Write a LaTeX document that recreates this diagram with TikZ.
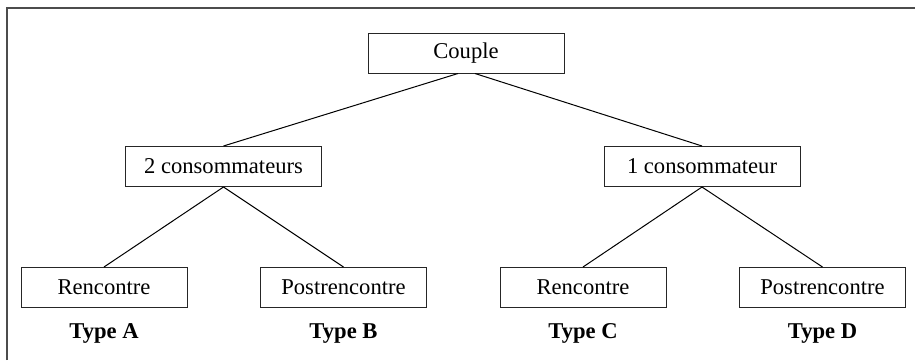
\documentclass[tikz,border=0pt]{standalone}
\usepackage{fontspec}
\setmainfont{Liberation Serif}
\usetikzlibrary{positioning}
\tikzset{
    boite/.style={
        rectangle,
        draw=black!85,
        line width=0.5pt,
        minimum height=20pt,
        minimum width=#1,
        inner sep=0pt,
        font=\fontsize{11.3}{13}\selectfont
    },
    boite/.default=98pt,
    % Labels and links
    typeLabel/.style={font=\fontsize{11.3}{13}\selectfont\bfseries, inner sep=0pt},
    lien/.style={draw=black, line width=0.5pt}
}
\begin{document}
\begin{tikzpicture}[x=0.5pt, y=-0.5pt]
\useasboundingbox (0,0) rectangle (915,360);
\draw[line width=1pt, draw=black!70] (6.5,360) -- (6.5,7.5) -- (915,7.5);

\node[boite] (couple) at (466,53) {Couple};
\node[boite] (deux) at (223.5,166.5) {2 consommateurs};
\node[boite] (un) at (702,166.5) {1 consommateur};

\node[boite=83pt] (rencA) at (104,287.5) {Rencontre};
\node[boite=83pt] (postB) at (343.5,287.5) {Postrencontre};
\node[boite=83pt] (rencC) at (583,287.5) {Rencontre};
\node[boite=83pt] (postD) at (822.5,287.5) {Postrencontre};

\node[typeLabel, below=7.5pt of rencA] (typeA) {Type A};
\node[typeLabel, below=7.5pt of postB] (typeB) {Type B};
\node[typeLabel, below=7.5pt of rencC] (typeC) {Type C};
\node[typeLabel, below=7.5pt of postD] (typeD) {Type D};

\draw[lien] ([xshift=-4pt]couple.south) -- (deux.north);
\draw[lien] ([xshift=4.5pt]couple.south) -- (un.north);
\draw[lien] (deux.south) -- (rencA.north);
\draw[lien] (deux.south) -- (postB.north);
\draw[lien] (un.south) -- (rencC.north);
\draw[lien] (un.south) -- (postD.north);
\end{tikzpicture}
\end{document}
